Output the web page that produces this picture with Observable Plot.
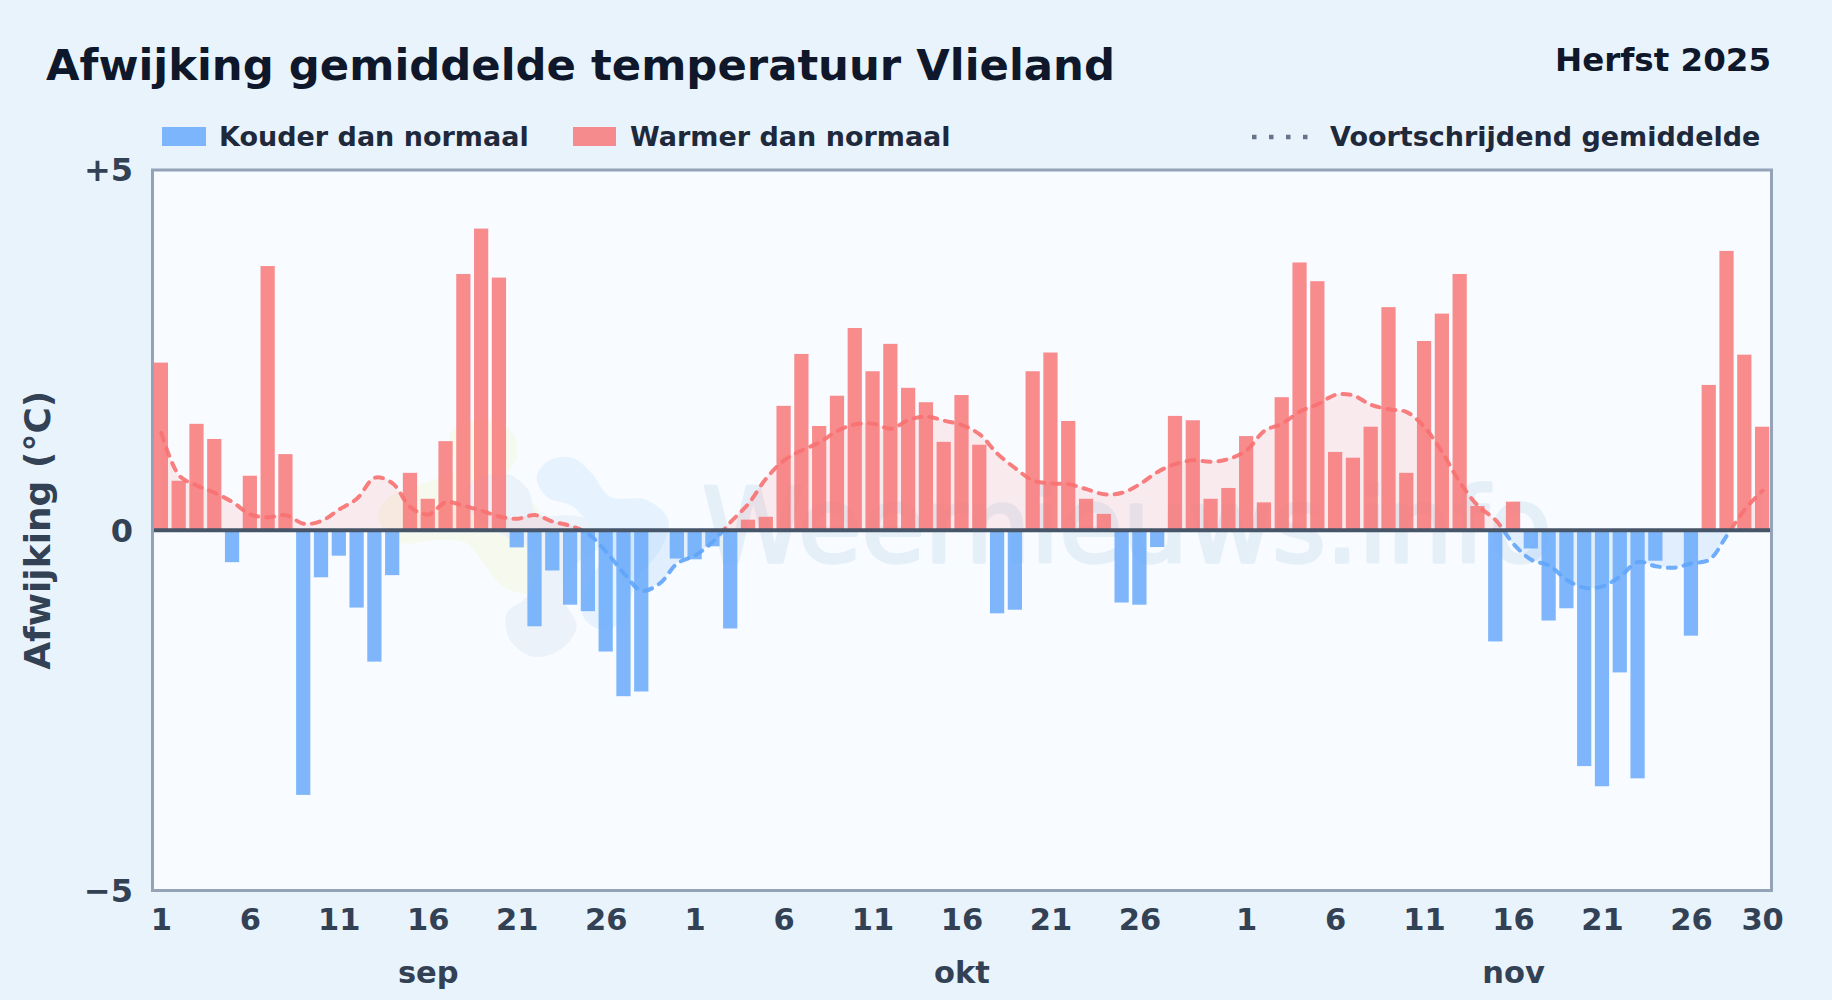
<!DOCTYPE html>
<html lang="nl">
<head>
<meta charset="utf-8">
<script src="https://cdn.jsdelivr.net/npm/d3@7"></script>
<script src="https://cdn.jsdelivr.net/npm/@observablehq/plot@0.6"></script>
<style>
  html, body { margin: 0; padding: 0; width: 1832px; height: 1000px; overflow: hidden; background: #e9f3fc; }
  body { font-family: "DejaVu Sans", sans-serif; font-weight: 700; position: relative; }
  #header { position: relative; height: 160px; }
  #header > * { position: absolute; white-space: nowrap; line-height: 1; }
  #title { left: 46px; top: 44px; font-size: 43.35px; color: #0f172a; }
  #season { right: 61px; top: 44px; font-size: 32.5px; color: #0f172a; }
  .lg { top: 123px; font-size: 27px; color: #1e293b; }
  .sw { top: 127px; height: 19px; }
  #chart svg { display: block; }
</style>
</head>
<body>
<div id="header">
  <div id="title">Afwijking gemiddelde temperatuur Vlieland</div>
  <div id="season">Herfst 2025</div>
  <div class="sw" style="left:162px;width:44px;background:#60a5fa;opacity:.8"></div>
  <div class="lg" style="left:219px">Kouder dan normaal</div>
  <div class="sw" style="left:573px;width:43px;background:#f87171;opacity:.8"></div>
  <div class="lg" style="left:630px">Warmer dan normaal</div>
  <svg style="left:1251px;top:131.5px" width="58" height="10"><line x1="1" x2="58" y1="5" y2="5" stroke="#64748b" stroke-width="4.5" stroke-dasharray="4.5 12.5"/></svg>
  <div class="lg" style="left:1330px">Voortschrijdend gemiddelde</div>
</div>
<div id="chart"></div>
<script>
const anomalies = [
  2.32, 0.68, 1.47, 1.26, -0.45, 0.75, 3.66, 1.05, -3.68, -0.66,
  -0.36, -1.08, -1.83, -0.63, 0.79, 0.43, 1.23, 3.55, 4.18, 3.50,
  -0.245, -1.34, -0.565, -1.04, -1.13, -1.69, -2.31, -2.245, -0.03, -0.40,
  -0.41, -0.23, -1.37, 0.14, 0.18, 1.72, 2.44, 1.44, 1.86, 2.80,
  2.20, 2.58, 1.97, 1.77, 1.22, 1.87, 1.18, -1.16, -1.11, 2.20,
  2.46, 1.51, 0.43, 0.22, -1.01, -1.04, -0.24, 1.58, 1.52, 0.43,
  0.58, 1.30, 0.38, 1.84, 3.71, 3.45, 1.08, 1.00, 1.43, 3.09,
  0.79, 2.62, 3.00, 3.55, 0.33, -1.55, 0.39, -0.26, -1.26, -1.09,
  -3.28, -3.56, -1.98, -3.45, -0.43, 0, -1.47, 2.01, 3.87, 2.43, 1.43
];
const rollingMean = [
  1.35, 0.76, 0.62, 0.52, 0.39, 0.22, 0.18, 0.21, 0.09, 0.13,
  0.29, 0.44, 0.73, 0.65, 0.32, 0.22, 0.39, 0.34, 0.27, 0.19,
  0.16, 0.21, 0.12, 0.06, -0.05, -0.30, -0.60, -0.84, -0.74, -0.46,
  -0.35, -0.16, 0.115, 0.37, 0.72, 0.97, 1.11, 1.22, 1.38, 1.47,
  1.48, 1.41, 1.53, 1.58, 1.52, 1.46, 1.33, 1.06, 0.86, 0.69,
  0.65, 0.64, 0.57, 0.50, 0.52, 0.64, 0.81, 0.92, 0.97, 0.95,
  0.99, 1.11, 1.38, 1.48, 1.65, 1.75, 1.88, 1.87, 1.74, 1.68,
  1.64, 1.43, 1.08, 0.66, 0.34, 0.14, -0.19, -0.41, -0.49, -0.69,
  -0.80, -0.78, -0.64, -0.44, -0.50, -0.52, -0.46, -0.41, -0.07, 0.29, 0.55
];
const dayTicks = [0,5,10,15,20,25, 30,35,40,45,50,55, 61,66,71,76,81,86, 90];
const dayTickLabels = ["1","6","11","16","21","26", "1","6","11","16","21","26", "1","6","11","16","21","26", "30"];
const monthTicks = [15, 45, 76];
const monthLabels = ["sep", "okt", "nov"];
const yTicks = [-5, 0, 5];
const yTickLabels = ["\u22125", "0", "+5"];

const RED = "#f87171", BLUE = "#60a5fa";
const bars = anomalies.map((v, i) => ({i, v}));
const mean = rollingMean.map((v, i) => ({i, v}));
const days = d3.range(anomalies.length);
const labelOf = (ticks, labels) => t => labels[ticks.indexOf(t)];

// Hard-stop gradients that switch colour at the zero line of the y scale.
const gradients = (index, {y}) => {
  const zero = y(0);
  const defs = d3.create("svg:defs");
  for (const [id, a, b] of [["lineGrad", 1, 1], ["areaGrad", .12, .15]]) {
    const g = defs.append("linearGradient").attr("id", id).attr("gradientUnits", "userSpaceOnUse")
      .attr("x1", 0).attr("x2", 0).attr("y1", zero - 1).attr("y2", zero + 1);
    g.append("stop").attr("offset", .5).attr("stop-color", RED).attr("stop-opacity", a);
    g.append("stop").attr("offset", .5).attr("stop-color", BLUE).attr("stop-opacity", b);
  }
  return defs.node();
};

// Faint logo behind the watermark word (decoration, not data).
const logoShapes = [
  ["#f6f9ee", [[270,100],[370,60],[460,100],[470,170],[440,240],[530,320],[590,450],[590,520],[520,580],[430,560],[370,490],[320,430],[230,420],[130,430],[80,400],[55,340],[90,290],[190,250],[280,210]]],
  ["#ecf2f9", [[330,250],[440,222],[505,270],[530,340],[650,348],[750,380],[720,440],[640,500],[610,590],[650,680],[600,750],[520,770],[450,720],[440,640],[500,590],[530,500],[500,440],[420,400],[330,330]]],
  ["#e6f3fe", [[530,230],[570,180],[640,175],[695,220],[750,290],[860,300],[925,360],[900,450],[830,540],[790,660],[730,690],[670,650],[680,560],[720,480],[700,400],[640,320],[560,290]]]
];
const logo = () => {
  const g = d3.create("svg:g").attr("transform", "translate(360,240) scale(0.3333)");
  const path = d3.line().curve(d3.curveCatmullRomClosed);
  for (const [fill, pts] of logoShapes) g.append("path").attr("fill", fill).attr("d", path(pts));
  return g.node();
};

const plot = Plot.plot({
  width: 1832,
  height: 840,
  marginLeft: 152,
  marginRight: 61,
  marginTop: 9.5,
  marginBottom: 110,
  style: {background: "transparent", fontFamily: "'DejaVu Sans', sans-serif", fontWeight: 700, overflow: "visible"},
  x: {type: "band", domain: days, paddingInner: 0.2, paddingOuter: 0.1, round: false, range: [152, 1771], axis: null, label: null},
  y: {domain: [-5, 5], axis: null, label: null},
  marks: [
    Plot.frame({fill: "#f8fbff", stroke: "none"}),
    logo,
    Plot.text(["Weernieuws.info"], {frameAnchor: "middle", dx: 165, dy: -1, fontSize: 103, fontWeight: 400, fill: "#3081bc", stroke: "#3081bc", strokeWidth: 3.5, opacity: 0.09}),
    gradients,
    Plot.areaY(mean, {x: "i", y1: 0, y2: "v", curve: "catmull-rom", fill: "url(#areaGrad)"}),
    Plot.barY(bars, {x: "i", y1: 0, y2: "v", fill: d => d.v < 0 ? BLUE : RED, fillOpacity: 0.8}),
    Plot.line(mean, {x: "i", y: "v", curve: "catmull-rom", stroke: "url(#lineGrad)", strokeWidth: 4, strokeDasharray: "8 8", strokeLinecap: "round", strokeOpacity: .9}),
    Plot.ruleY([0], {stroke: "#475569", strokeWidth: 4}),
    Plot.frame({stroke: "#94a3b8", strokeWidth: 3}),
    Plot.axisX({ticks: dayTicks, tickFormat: labelOf(dayTicks, dayTickLabels), tickSize: 0, tickPadding: 18, fontSize: 30.5, fill: "#334155", label: null}),
    Plot.axisX({ticks: monthTicks, tickFormat: labelOf(monthTicks, monthLabels), tickSize: 0, tickPadding: 71, fontSize: 30.5, fill: "#334155", label: null}),
    Plot.axisY({ticks: yTicks, tickFormat: labelOf(yTicks, yTickLabels), tickSize: 0, tickPadding: 19.5, fontSize: 32, dy: 1, fill: "#334155", label: null}),
    Plot.text(["Afwijking (°C)"], {frameAnchor: "left", dx: -114, rotate: -90, textAnchor: "middle", fontSize: 36, fill: "#334155"})
  ]
});
document.getElementById("chart").append(plot);
</script>
</body>
</html>
